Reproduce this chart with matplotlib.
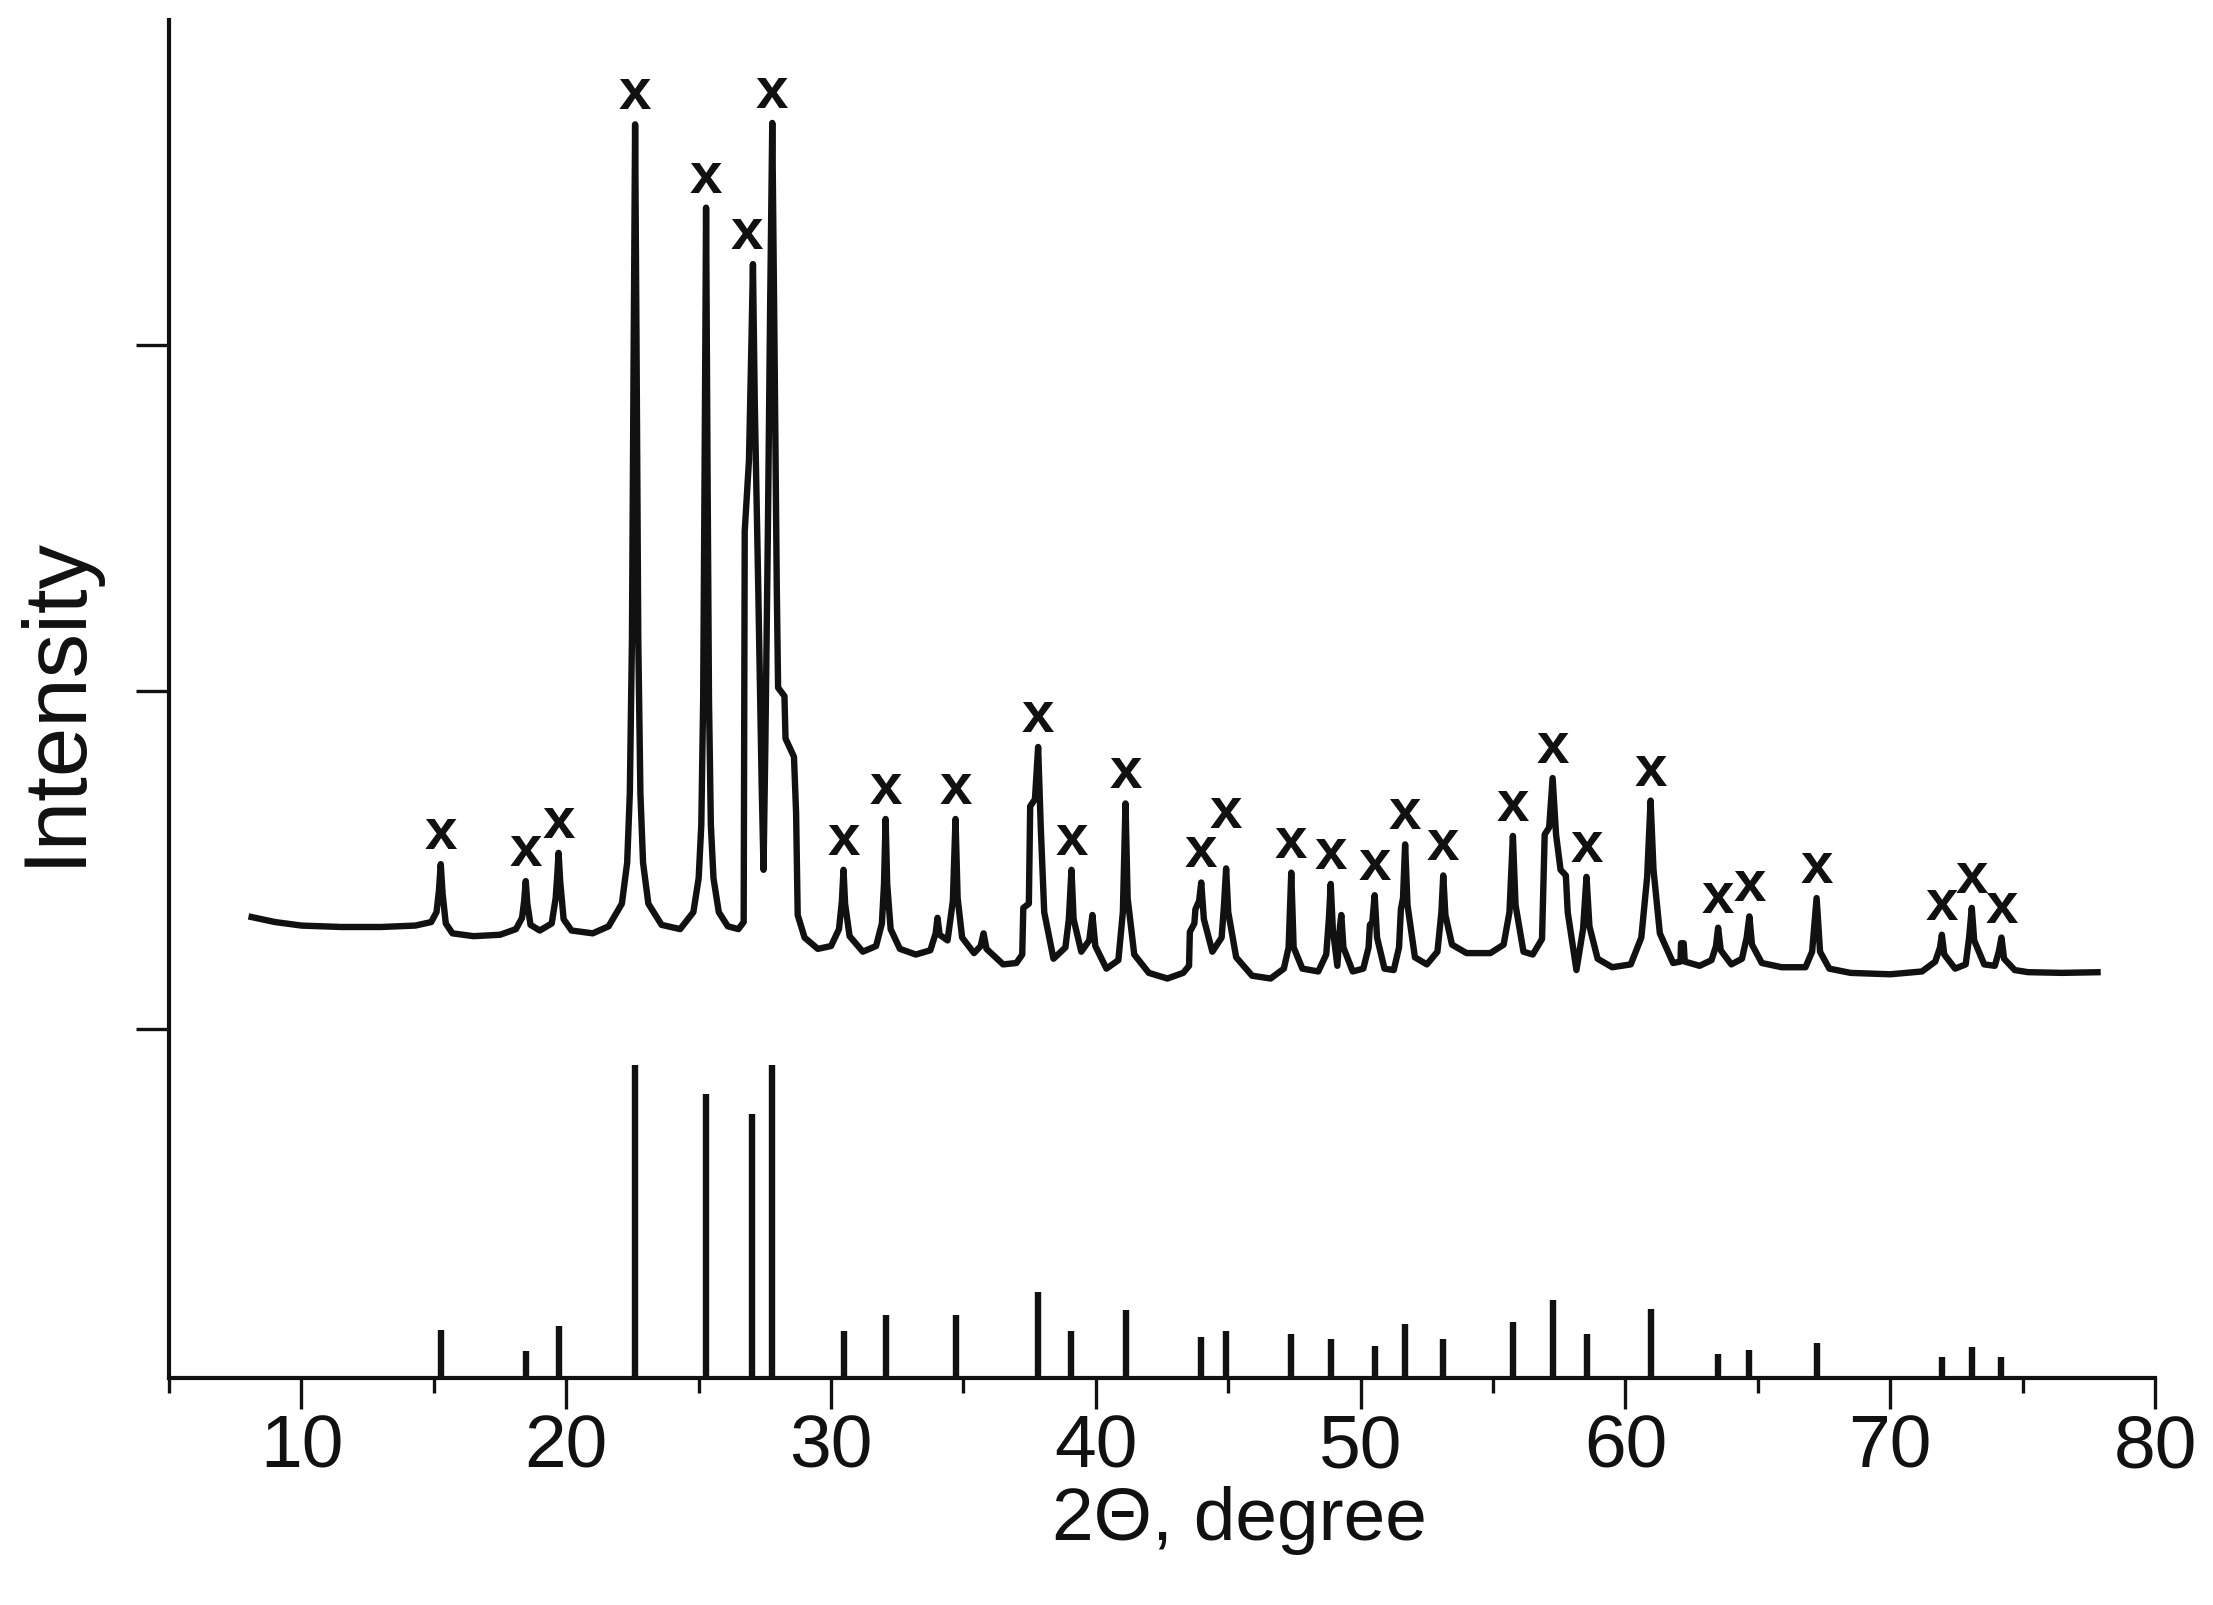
import matplotlib
matplotlib.use("Agg")
import matplotlib.pyplot as plt
from matplotlib.ticker import MultipleLocator

pattern_2theta = [
    8.0, 9.0, 10.0, 11.5, 13.0, 14.3, 14.9, 15.1, 15.19, 15.26, 15.33, 15.45, 15.7, 16.5, 17.5,
    18.1, 18.33, 18.41, 18.47, 18.53, 18.65, 19.0, 19.45, 19.6, 19.66, 19.71, 19.77, 19.9, 20.2, 21.0,
    21.6, 22.1, 22.3, 22.4, 22.48, 22.54, 22.6, 22.66, 22.72, 22.8, 22.9, 23.1, 23.6, 24.3,
    24.8, 25.0, 25.1, 25.17, 25.23, 25.28, 25.33, 25.39, 25.46, 25.56, 25.76, 26.1, 26.5,
    26.7, 26.74, 26.9, 27.0, 27.05, 27.12, 27.25, 27.38, 27.45, 27.52, 27.62, 27.7, 27.78, 27.86,
    27.95, 28.0, 28.24, 28.28, 28.6, 28.68, 28.74, 29.0, 29.5, 30.0, 30.3, 30.41, 30.47, 30.53,
    30.7, 31.2, 31.7, 31.92, 32.0, 32.06, 32.12, 32.25, 32.6, 33.2, 33.75, 33.95, 34.02, 34.1,
    34.4, 34.6, 34.7, 34.78, 34.95, 35.4, 35.65, 35.76, 35.87, 36.5, 37.0, 37.22, 37.26, 37.47,
    37.52, 37.7, 37.82, 37.92, 38.05, 38.4, 38.85, 38.98, 39.08, 39.16, 39.45, 39.75, 39.87, 39.98,
    40.4, 40.85, 41.02, 41.12, 41.2, 41.45, 42.0, 42.7, 43.3, 43.52, 43.55, 43.72, 43.76, 43.9,
    43.98, 44.08, 44.4, 44.75, 44.84, 44.92, 45.0, 45.3, 45.9, 46.6, 47.1, 47.28, 47.38, 47.47,
    47.8, 48.4, 48.7, 48.8, 48.87, 48.95, 49.12, 49.22, 49.27, 49.35, 49.7, 50.1, 50.3, 50.35,
    50.44, 50.53, 50.62, 50.9, 51.25, 51.45, 51.52, 51.6, 51.68, 51.77, 52.05, 52.5, 52.9, 53.05,
    53.12, 53.2, 53.45, 54.0, 54.9, 55.4, 55.62, 55.75, 55.85, 56.15, 56.5, 56.85, 56.95, 57.12,
    57.25, 57.38, 57.55, 57.75, 57.82, 58.15, 58.4, 58.53, 58.64, 58.95, 59.5, 60.2, 60.6, 60.82,
    60.95, 61.06, 61.3, 61.8, 62.08, 62.1, 62.2, 62.24, 62.8, 63.25, 63.42, 63.5, 63.6, 64.0,
    64.4, 64.58, 64.68, 64.78, 65.15, 65.9, 66.8, 67.05, 67.22, 67.35, 67.7, 68.5, 70.0, 71.2,
    71.7, 71.88, 71.95, 72.04, 72.45, 72.85, 72.98, 73.08, 73.17, 73.55, 73.95, 74.1, 74.2, 74.3,
    74.7, 75.2, 76.5, 77.95,
]
pattern_intensity = [
    327, 323, 320.5, 319.5, 319.5, 320.5, 323, 330, 345, 364, 343, 322, 315, 313, 314,
    318, 326, 338, 352, 336, 321, 317, 322, 340, 356, 372, 352, 325, 317, 315,
    320, 336, 365, 414, 522, 712, 888, 712, 522, 414, 365, 336, 321, 318,
    330, 354, 392, 480, 660, 829, 660, 480, 392, 354, 330, 320, 318,
    323, 600, 650, 740, 789, 690, 560, 420, 360, 450, 610, 760, 889, 740,
    560, 489, 483, 453, 440, 400, 328, 312, 304, 306, 318, 338, 360, 336,
    313, 302, 306, 322, 350, 396, 350, 318, 304, 300, 303, 315, 326, 314,
    310, 338, 396, 340, 312, 301, 306, 315, 304, 293, 294, 300, 333, 336,
    405, 410, 447, 390, 330, 297, 305, 325, 360, 325, 302, 310, 328, 306,
    290, 296, 330, 407, 340, 300, 287, 283, 287, 292, 316, 322, 332, 338,
    351, 325, 302, 312, 335, 361, 330, 298, 285, 283, 290, 305, 358, 305,
    290, 288, 300, 325, 350, 318, 292, 320, 328, 305, 288, 290, 305, 321,
    323, 342, 312, 290, 289, 305, 332, 340, 378, 335, 298, 293, 302, 330,
    356, 328, 307, 301, 301, 307, 330, 384, 335, 302, 300, 311, 385, 390,
    425, 385, 360, 356, 330, 289, 318, 355, 320, 297, 291, 293, 312, 355,
    409, 360, 315, 294, 295, 308, 308, 295, 292, 296, 306, 319, 303, 293,
    297, 312, 327, 307, 294, 291, 291, 302, 340, 302, 290, 287, 286, 288,
    295, 305, 314, 300, 290, 293, 312, 333, 310, 293, 292, 302, 312, 297,
    289, 287.5, 287, 287.5,
]

# reference stick pattern
ref_2theta = [15.26, 18.47, 19.71, 22.6, 25.28, 27.02, 27.76, 30.47, 32.06, 34.7,
              37.82, 39.08, 41.12, 43.98, 44.92, 47.38, 48.87, 50.53, 51.68, 53.12,
              55.75, 57.25, 58.53, 60.95, 63.5, 64.68, 67.22, 71.95, 73.08, 74.2]
ref_height = [34, 19, 37, 222, 201, 187, 222, 33, 45, 45,
              61, 33, 48, 29, 33, 31, 28, 23, 38, 28,
              40, 55, 31, 49, 17, 20, 25, 15, 22, 15]
# pattern peak tops where the "x" marks sit
mark_top = [364, 352, 372, 888, 829, 789, 889, 360, 396, 396,
            447, 360, 407, 351, 361, 358, 350, 342, 378, 356,
            384, 425, 355, 409, 319, 327, 340, 314, 333, 312]

yticks = [247, 487, 732]

fig = plt.figure(figsize=(22.13, 16.06), dpi=100)
ax = fig.add_axes([0.0764, 0.1413, 0.8974, 0.8457])

ax.plot(pattern_2theta, pattern_intensity, color='#111111', linewidth=4.6,
        solid_joinstyle='round', solid_capstyle='butt')
ax.vlines(ref_2theta, 0, ref_height, color='#111111', linewidth=4.6)

for x, top in zip(ref_2theta, mark_top):
    dx, dy = 0, 22
    if abs(x - 44.92) < 0.01:
        dy = 40
    if abs(x - 27.02) < 0.01:
        dx = -0.2
    ax.text(x + dx, top + dy, 'x', ha='center', va='center', fontsize=42,
            fontweight='bold', family='Liberation Sans', color='#111111')

ax.set_xlim(5, 80)
ax.set_ylim(0, 962)
ax.xaxis.set_major_locator(MultipleLocator(10))
ax.xaxis.set_minor_locator(MultipleLocator(5))
ax.set_yticks(yticks)
ax.set_yticklabels([])

for side in ['top', 'right']:
    ax.spines[side].set_visible(False)
for side in ['left', 'bottom']:
    ax.spines[side].set_linewidth(3.0)
    ax.spines[side].set_color('#111111')

ax.tick_params(axis='x', which='major', direction='out', length=22, width=2.4,
               pad=3, labelsize=54, colors='#111111')
ax.tick_params(axis='x', which='minor', direction='out', length=11, width=2.4,
               colors='#111111')
ax.tick_params(axis='y', which='major', direction='out', length=24, width=2.4,
               colors='#111111')
for lbl in ax.get_xticklabels():
    lbl.set_family('Liberation Sans')

ax.set_xlabel('2Θ, degree', fontsize=54, family='Liberation Sans', color='#111111')
ax.xaxis.set_label_coords(0.539, -0.079)
ax.set_ylabel('Intensity', fontsize=64, family='Liberation Sans', color='#111111')
ax.yaxis.set_label_coords(-0.036, 0.5)

fig.savefig('out.png', dpi=100)
